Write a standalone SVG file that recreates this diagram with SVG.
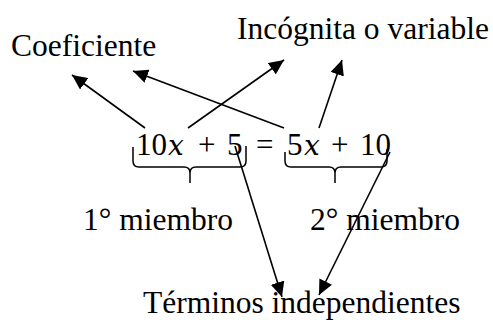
<svg xmlns="http://www.w3.org/2000/svg" width="493" height="320" viewBox="0 0 493 320">
<style>
.t{font-family:"Liberation Serif","Times New Roman",serif;font-size:31.5px;fill:#000}
.eq{font-family:"Liberation Serif","Times New Roman",serif;font-size:31px;fill:#000}
.it{font-family:"DejaVu Serif","Liberation Serif",serif;font-style:italic;font-size:28px}
.br{fill:none;stroke:#000;stroke-width:1.5}
.ar{fill:none;stroke:#000;stroke-width:1.6;marker-end:url(#ah)}
</style>
<defs>
<marker id="ah" markerUnits="userSpaceOnUse" markerWidth="16" markerHeight="14" refX="15" refY="7" orient="auto">
<path d="M0,0 L15,7 L0,14 Z" fill="#000"/>
</marker>
</defs>
<rect width="493" height="320" fill="#fff"/>
<g id="coeficiente"><text class="t" x="11" y="56">Coeficiente</text></g>
<g id="incognita"><text class="t" x="237" y="39">Incógnita o variable</text></g>
<g id="ecuacion">
<text class="eq" x="136" y="155">10</text>
<text class="eq it" x="168" y="155">x</text>
<text class="eq" x="198" y="155">+</text>
<text class="eq" x="227" y="155">5</text>
<text class="eq" x="256" y="155">=</text>
<text class="eq" x="287" y="155">5</text>
<text class="eq it" x="304" y="155">x</text>
<text class="eq" x="331" y="155">+</text>
<text class="eq" x="360" y="155">10</text>
</g>
<g id="llave1"><path class="br" d="M133,147 L133,161 Q133,167 139,167 L184,167 Q190,167 190,173 L190,183 M190,173 Q190,167 196,167 L240,167 Q246,167 246,161 L246,146"/></g>
<g id="llave2"><path class="br" d="M285,152 L285,161 Q285,167 291,167 L329,167 Q335,167 335,173 L335,183 M335,173 Q335,167 341,167 L381,167 Q387,167 387,161 L387,149"/></g>
<g id="miembro1"><text class="t" x="83" y="230">1° miembro</text></g>
<g id="miembro2"><text class="t" x="310" y="230">2° miembro</text></g>
<g id="terminos"><text class="t" x="143" y="313">Términos independientes</text></g>
<g id="conectores">
<line class="ar" x1="145" y1="128" x2="72" y2="75"/>
<line class="ar" x1="188" y1="128" x2="284" y2="60"/>
<line class="ar" x1="284" y1="128" x2="133" y2="71"/>
<line class="ar" x1="319" y1="128" x2="342" y2="60"/>
<line class="ar" x1="235" y1="146" x2="282" y2="297"/>
<line class="ar" x1="390" y1="152" x2="319" y2="295"/>
</g>
</svg>
